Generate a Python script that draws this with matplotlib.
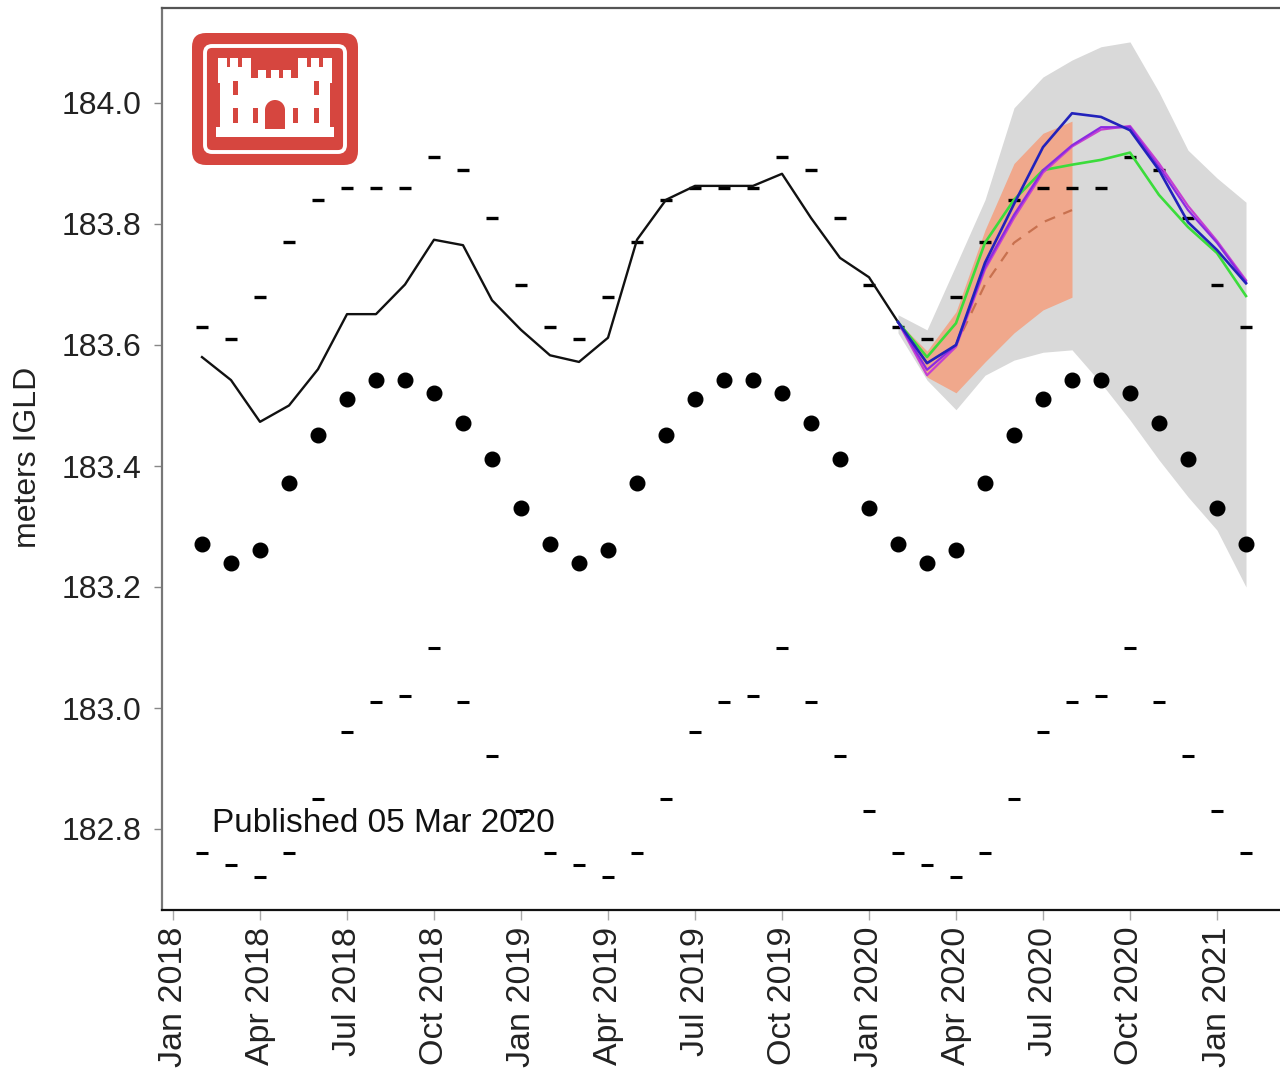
import numpy as np
import matplotlib
matplotlib.use("Agg")
import matplotlib.pyplot as plt
from matplotlib.patches import FancyBboxPatch, Rectangle, Wedge

plt.rcParams['font.family'] = ['Liberation Sans', 'DejaVu Sans']

# ---------------- data (month index: 0 = Jan 2018) ----------------
tick_months = [0, 3, 6, 9, 12, 15, 18, 21, 24, 27, 30, 33, 36]
tick_labels = ["Jan 2018", "Apr 2018", "Jul 2018", "Oct 2018",
               "Jan 2019", "Apr 2019", "Jul 2019", "Oct 2019",
               "Jan 2020", "Apr 2020", "Jul 2020", "Oct 2020", "Jan 2021"]

# monthly climatology by calendar month (Jan..Dec)
lta = [183.331, 183.271, 183.240, 183.261, 183.372, 183.451,
       183.511, 183.542, 183.542, 183.521, 183.471, 183.412]
rec_high = [183.70, 183.63, 183.61, 183.68, 183.77, 183.84,
            183.86, 183.86, 183.86, 183.91, 183.89, 183.81]
rec_low = [182.83, 182.76, 182.74, 182.72, 182.76, 182.85,
           182.96, 183.01, 183.02, 183.10, 183.01, 182.92]
clim_months = list(range(1, 38))   # Feb 2018 .. Feb 2021

# recorded monthly levels Feb 2018 .. Feb 2020
recorded_months = list(range(1, 26))
recorded = [183.580, 183.542, 183.473, 183.500, 183.560, 183.651, 183.651,
            183.700, 183.774, 183.765, 183.674, 183.625, 183.583, 183.572,
            183.612, 183.774, 183.840, 183.863, 183.863, 183.863, 183.883,
            183.810, 183.744, 183.712, 183.638]

# forecasts Feb 2020 .. Feb 2021
fc_months = list(range(25, 38))
fc_blue = [183.638, 183.570, 183.600, 183.736, 183.833, 183.927, 183.983,
           183.977, 183.955, 183.889, 183.803, 183.757, 183.702]
fc_violet = [183.638, 183.559, 183.600, 183.729, 183.815, 183.889, 183.930,
             183.960, 183.960, 183.894, 183.823, 183.769, 183.704]
fc_magenta = [183.638, 183.550, 183.597, 183.725, 183.810, 183.885, 183.928,
              183.956, 183.962, 183.900, 183.830, 183.772, 183.707]
fc_green = [183.638, 183.580, 183.636, 183.769, 183.840, 183.889, 183.898,
            183.906, 183.918, 183.848, 183.795, 183.752, 183.681]

# long range (gray) band Feb 2020 .. Feb 2021
gray_upper = [183.650, 183.625, 183.732, 183.840, 183.992, 184.043, 184.071,
              184.093, 184.101, 184.018, 183.922, 183.876, 183.836]
gray_lower = [183.620, 183.542, 183.493, 183.550, 183.575, 183.588, 183.592,
              183.537, 183.476, 183.410, 183.349, 183.294, 183.200]

# six-month (orange) band Feb 2020 .. Aug 2020
or_months = list(range(25, 32))
or_upper = [183.638, 183.590, 183.655, 183.790, 183.900, 183.950, 183.970]
or_lower = [183.638, 183.547, 183.521, 183.572, 183.620, 183.658, 183.679]
or_median = [183.638, 183.570, 183.600, 183.700, 183.769, 183.803, 183.823]

# ---------------- figure ----------------
W, H = 1280, 1076
fig = plt.figure(figsize=(W / 100, H / 100), dpi=100)
ax = fig.add_axes([162 / W, 166 / H, 1118 / W, 902 / H])

clim_idx = [(m % 12) for m in clim_months]
lta_s = [lta[i] for i in clim_idx]
hi_s = [rec_high[i] for i in clim_idx]
lo_s = [rec_low[i] for i in clim_idx]

ax.fill_between(fc_months, gray_lower, gray_upper, color='#d9d9d9',
                linewidth=0, zorder=1)
ax.fill_between(or_months, or_lower, or_upper, color='#f0a88c',
                linewidth=0, zorder=2)
ax.plot(or_months, or_median, color='#c8714f', lw=1.6, ls=(0, (5, 4)),
        zorder=3)

ax.plot(clim_months, hi_s, ls='none', marker='_', ms=9, mew=2.4,
        color='black', zorder=4)
ax.plot(clim_months, lo_s, ls='none', marker='_', ms=9, mew=2.2,
        color='black', zorder=4)
ax.plot(clim_months, lta_s, ls='none', marker='o', ms=10.5,
        color='black', zorder=5)

ax.plot(recorded_months, recorded, color='#111111', lw=1.7, zorder=6)
ax.plot(fc_months, fc_green, color='#3bdc3b', lw=1.9, zorder=6)
ax.plot(fc_months, fc_magenta, color='#c640d0', lw=1.6, zorder=6)
ax.plot(fc_months, fc_violet, color='#8a2be2', lw=1.6, zorder=7)
ax.plot(fc_months, fc_blue, color='#2222bb', lw=1.9, zorder=7)

ax.set_xlim((162 - 173) / 29, (1280 - 173) / 29)
ax.set_ylim(184 - (910 - 103) / 605, 184 + 95 / 605)

ax.set_xticks(tick_months)
ax.set_xticklabels(tick_labels, rotation=90)
yt = [182.8, 183.0, 183.2, 183.4, 183.6, 183.8, 184.0]
ax.set_yticks(yt)
ax.set_yticklabels([f"{v:.1f}" for v in yt])

ax.tick_params(axis='y', length=6, width=1, color='#888888', pad=9,
               labelsize=23, labelcolor='#222222')
ax.tick_params(axis='x', length=7, width=1, color='#aaaaaa', pad=5,
               labelsize=24.5, labelcolor='#222222')

ax.spines['right'].set_visible(False)
ax.spines['left'].set_color('#777777')
ax.spines['left'].set_linewidth(1.6)
ax.spines['bottom'].set_color('#111111')
ax.spines['bottom'].set_linewidth(1.6)
ax.spines['top'].set_color('#555555')
ax.spines['top'].set_linewidth(1.6)

# ---------------- overlay (pixel coordinates) ----------------
ov = fig.add_axes([0, 0, 1, 1], zorder=10)
ov.set_xlim(0, W)
ov.set_ylim(H, 0)
ov.axis('off')
ov.patch.set_alpha(0)

ov.text(28, 457, "meters IGLD", rotation=90, ha='center', va='center',
        fontsize=23, color='#222222')
ov.text(212, 823, "Published 05 Mar 2020", ha='left', va='center',
        fontsize=24, color='#111111')

red = '#d6463f'
ov.add_patch(FancyBboxPatch((192, 33), 166, 132,
                            boxstyle="round,pad=0,rounding_size=14",
                            facecolor=red, edgecolor='none'))
ov.add_patch(FancyBboxPatch((205, 46), 140, 106,
                            boxstyle="round,pad=0,rounding_size=7",
                            facecolor='none', edgecolor='white', lw=2.8))
white = 'white'
castle = [
    # left tower merlons
    (218, 58, 8.5, 11), (230, 58, 8, 11), (242, 58, 8.5, 11),
    # left tower block and body
    (218, 67, 32.5, 16), (220, 80, 29, 57),
    # right tower merlons
    (298, 58, 8.5, 11), (310.5, 58, 8, 11), (323, 58, 9, 11),
    # right tower block and body
    (298, 67, 34, 16), (300, 80, 30, 57),
    # center merlons and body
    (258, 70, 8, 10), (270.5, 70, 8, 10), (283, 70, 8, 10),
    (248, 78, 52, 59),
    # base
    (216, 127, 118, 10),
]
for (x, y, w, h) in castle:
    ov.add_patch(Rectangle((x, y), w, h, facecolor=white, edgecolor='none'))

slits = [(233, 81, 4.5, 14), (233, 108, 4.5, 15), (253, 108, 4.5, 15),
         (293, 108, 4.5, 15), (314, 81, 4.5, 14), (314, 108, 4.5, 15)]
for (x, y, w, h) in slits:
    ov.add_patch(Rectangle((x, y), w, h, facecolor=red, edgecolor='none'))
ov.add_patch(Rectangle((265, 110), 20, 19, facecolor=red, edgecolor='none'))
ov.add_patch(Wedge((275, 110), 10, 180, 360, facecolor=red, edgecolor='none'))

fig.savefig("out.png", dpi=100)
